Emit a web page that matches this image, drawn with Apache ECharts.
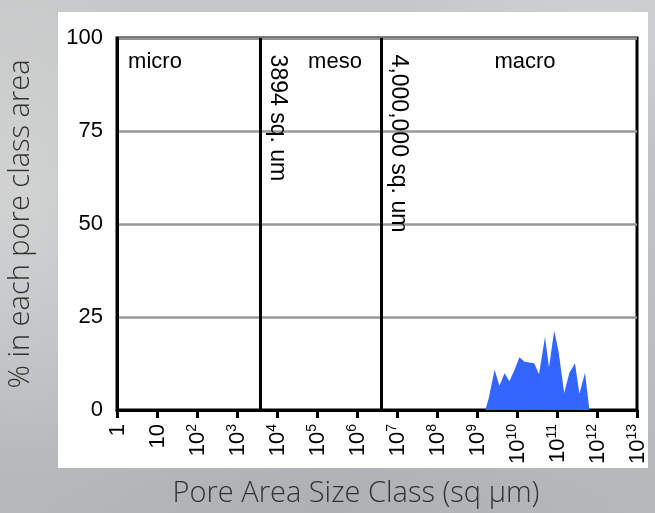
<!DOCTYPE html>
<html>
<head>
<meta charset="utf-8">
<script src="https://cdn.jsdelivr.net/npm/echarts@6/dist/echarts.min.js"></script>
<style>
  html, body { margin: 0; padding: 0; }
  body {
    width: 655px; height: 513px; overflow: hidden; position: relative;
    background-color: #bdbfc1;
    background-image:
      radial-gradient(ellipse 160px 260px at 20px 200px, rgba(222,222,222,0.6), rgba(222,222,222,0) 100%),
      radial-gradient(ellipse 200px 120px at 600px 30px, rgba(218,219,221,0.5), rgba(218,219,221,0) 100%),
      radial-gradient(ellipse 300px 80px at 330px 500px, rgba(165,168,171,0.45), rgba(165,168,171,0) 100%),
      linear-gradient(180deg, #c6c7c8 0%, #bcbec0 60%, #b5b7b9 100%);
  }
  #panel { position: absolute; left: 58px; top: 12px; width: 590px; height: 456px; background: #ffffff; }
  #chart { position: absolute; left: 0; top: 0; width: 655px; height: 513px; }
</style>
</head>
<body>
<div id="panel"></div>
<div id="chart"></div>
<script>
// ---- data (x in log10 of pore area, sq um) ----
const xTickExponents = [0,1,2,3,4,5,6,7,8,9,10,11,12,13];
const yTicks = [0, 25, 50, 75, 100];
const poreLogArea = [9.21, 9.29, 9.44, 9.56, 9.69, 9.81, 9.94, 10.06, 10.19, 10.31, 10.43, 10.55, 10.70, 10.80, 10.93, 11.04, 11.18, 11.31, 11.45, 11.56, 11.70, 11.81];
const percentArea = [0, 3, 10.8, 6.5, 9.9, 7.7, 10.8, 14.2, 13.0, 12.8, 12.6, 9.6, 19.6, 11.5, 21.3, 15.7, 4.6, 10.0, 12.6, 4.4, 10.0, 0];
const classBoundaries = [3894, 4000000];
const boundaryLabels = ['3894 sq. um', '4,000,000 sq. um'];
const classNames = ['micro', 'meso', 'macro'];
const classLabelX = [0.95, 5.45, 10.2];
const classLabelY = 93.5;
const xTitle = 'Pore Area Size Class (sq µm)';
const yTitle = '% in each pore class area';

const FONT = '"Liberation Sans", Arial, sans-serif';
const TITLE_FONT = '"Open Sans", sans-serif';
const chart = echarts.init(document.getElementById('chart'), null, { renderer: 'canvas' });

const seriesData = poreLogArea.map((x, i) => [x, percentArea[i]]);

chart.setOption({
  backgroundColor: 'transparent',
  animation: false,
  grid: {
    left: 117, right: 18, top: 38, bottom: 103,
    outerBoundsMode: 'none', containLabel: false,
    show: true, borderColor: '#000', borderWidth: 3, backgroundColor: 'transparent'
  },
  xAxis: {
    type: 'value', min: 0, max: 13, interval: 1,
    axisLine: { show: true, lineStyle: { color: '#000', width: 3 } },
    axisTick: { show: true, length: 8, lineStyle: { color: '#000', width: 3 } },
    splitLine: { show: false },
    axisLabel: {
      rotate: 90, margin: 14, color: '#000', fontFamily: FONT, fontSize: 22,
      formatter: function (v) {
        if (v === 0) return '{b|1}';
        if (v === 1) return '{b|10}';
        return '{b|10}{s|' + v + '}';
      },
      rich: {
        b: { fontFamily: FONT, fontSize: 22, color: '#000', verticalAlign: 'bottom', lineHeight: 24 },
        s: { fontFamily: FONT, fontSize: 14, color: '#000', verticalAlign: 'top', lineHeight: 24 }
      }
    }
  },
  yAxis: {
    type: 'value', min: 0, max: 100, interval: 25,
    name: yTitle, nameLocation: 'middle', nameGap: 82, nameRotate: 90,
    nameTextStyle: { fontFamily: TITLE_FONT, fontWeight: 300, fontSize: 29, color: '#333' },
    axisLine: { show: true, lineStyle: { color: '#000', width: 3 } },
    axisTick: { show: false },
    axisLabel: { margin: 14, color: '#000', fontFamily: FONT, fontSize: 22 },
    splitLine: { show: true, lineStyle: { color: '#999', width: 2.5 } }
  },
  series: [{
    type: 'line',
    data: seriesData,
    symbol: 'none',
    smooth: false,
    lineStyle: { width: 0, color: '#3366ff' },
    areaStyle: { color: '#3366ff', opacity: 1 },
    z: 3,
    markLine: {
      silent: true, symbol: ['none', 'none'],
      label: { show: false },
      lineStyle: { color: '#000', width: 3, type: 'solid' },
      data: classBoundaries.map(b => ({ xAxis: Math.log10(b) })),
      z: 5
    }
  }]
});

function placeAnnotations() {
  const g = [];
  classNames.forEach((n, i) => {
    const p = chart.convertToPixel({ gridIndex: 0 }, [classLabelX[i], classLabelY]);
    g.push({ type: 'text', x: p[0], y: p[1], z: 10,
      style: { text: n, fontFamily: FONT, fontSize: 22, fill: '#000', align: 'center', verticalAlign: 'middle' } });
  });
  classBoundaries.forEach((b, i) => {
    const p = chart.convertToPixel({ gridIndex: 0 }, [Math.log10(b), 95]);
    g.push({ type: 'text', x: p[0] + 17, y: p[1] - 2, rotation: -Math.PI / 2, z: 10,
      style: { text: boundaryLabels[i], fontFamily: FONT, fontSize: 23, fill: '#000', align: 'left', verticalAlign: 'middle' } });
  });
  g.push({ type: 'text', x: 356, y: 494, z: 10,
    style: { text: xTitle, fontFamily: TITLE_FONT, fontWeight: 300, fontSize: 29, fill: '#333', align: 'center', verticalAlign: 'middle' } });
  chart.setOption({ graphic: g });
}
placeAnnotations();
</script>
</body>
</html>
